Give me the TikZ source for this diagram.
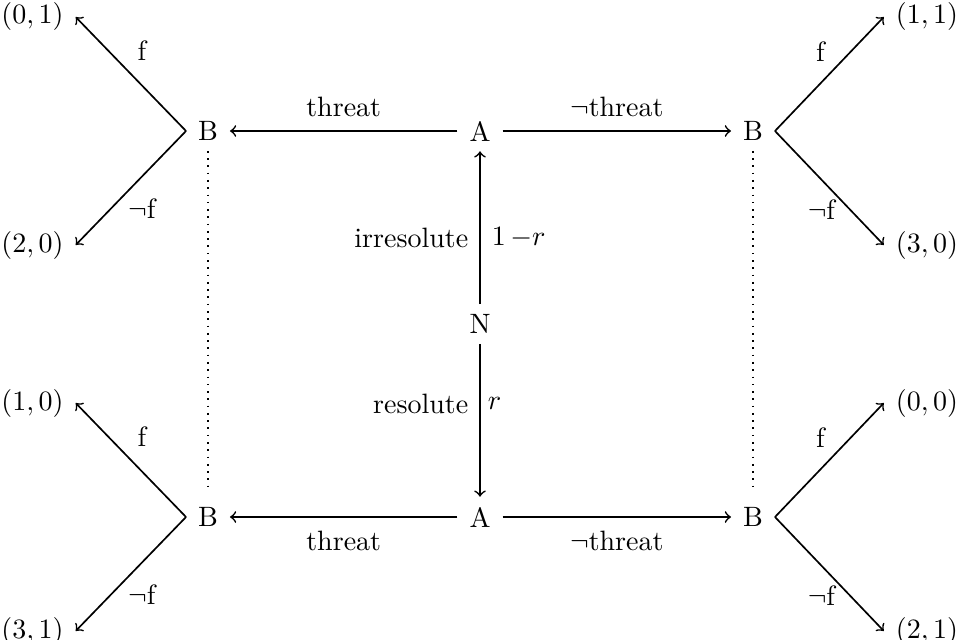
\documentclass[tikz,border=0pt]{standalone}
\usetikzlibrary{arrows}
\begin{document}
\begin{tikzpicture}[x=0.3571pt,y=-0.3571pt,
  cell/.style={inner xsep=1ex,inner ysep=0.85ex,outer sep=0pt},
  arr/.style={->,line width=0.6pt},
  lbl/.style={inner sep=0pt,outer sep=0pt},
  hl/.style={inner sep=4.6pt},
  vl/.style={inner sep=3.9pt}]
\useasboundingbox (0,0) rectangle (959,640);
% main nodes
\node[cell] (A1) at (480,131) {A};
\node[cell] (A2) at (480,517) {A};
\node[cell] (N)  at (480,324) {N};
\node[cell] (B1) at (208,131) {B};
\node[cell] (B2) at (753,131) {B};
\node[cell] (B3) at (208,517) {B};
\node[cell] (B4) at (753,517) {B};
% payoffs
\node[cell] (p01) at (32.5,17)  {$(0,1)$};
\node[cell] (p20) at (32.5,245) {$(2,0)$};
\node[cell] (p10) at (32.5,403) {$(1,0)$};
\node[cell] (p31) at (32.5,631) {$(3,1)$};
\node[cell] (p11) at (927,17)  {$(1,1)$};
\node[cell] (p30) at (927,245) {$(3,0)$};
\node[cell] (p00) at (927,403) {$(0,0)$};
\node[cell] (p21) at (927,631) {$(2,1)$};
% horizontal arrows
\draw[arr] (A1) -- (B1) node[midway,above,hl] {threat};
\draw[arr] (A1) -- (B2) node[midway,above,hl] {$\neg$threat};
\draw[arr] (A2) -- (B3) node[midway,below,hl] {threat};
\draw[arr] (A2) -- (B4) node[midway,below,hl] {$\neg$threat};
% chance arrows
\draw[arr] (N) -- (A1) node[pos=0.435,left,vl] {irresolute} node[pos=0.435,right,vl] {$1\mkern3mu{-}r$};
\draw[arr] (N) -- (A2) node[pos=0.39,left,vl] {resolute} node[pos=0.39,right,inner sep=2.5pt] {$r$};
% information sets
\draw[dotted,line width=0.6pt,shorten >=3pt] (B1) -- (B3);
\draw[dotted,line width=0.6pt,shorten >=3pt] (B2) -- (B4);
% branches left
\draw[arr] (B1.west) -- (p01.east) node[lbl,midway,shift={(11,-23)}] {f};
\draw[arr] (B1.west) -- (p20.east) node[lbl,midway,shift={(11,21)}] {$\neg$f};
\draw[arr] (B3.west) -- (p10.east) node[lbl,midway,shift={(11,-23)}] {f};
\draw[arr] (B3.west) -- (p31.east) node[lbl,midway,shift={(11,21)}] {$\neg$f};
% branches right
\draw[arr] (B2.east) -- (p11.west) node[lbl,midway,shift={(-9,-22)}] {f};
\draw[arr] (B2.east) -- (p30.west) node[lbl,midway,shift={(-8,22)}] {$\neg$f};
\draw[arr] (B4.east) -- (p00.west) node[lbl,midway,shift={(-9,-22)}] {f};
\draw[arr] (B4.east) -- (p21.west) node[lbl,midway,shift={(-8,22)}] {$\neg$f};
\end{tikzpicture}
\end{document}
